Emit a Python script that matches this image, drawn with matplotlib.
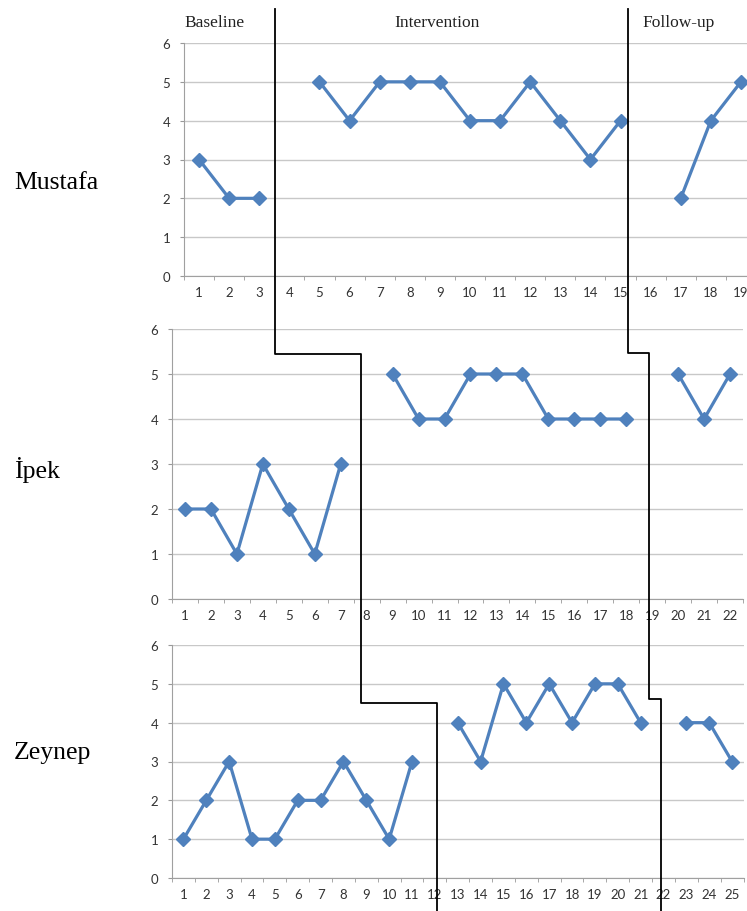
import matplotlib
matplotlib.use("agg")
import matplotlib.pyplot as plt
from matplotlib.lines import Line2D
import numpy as np

W, H = 747, 912
nan = np.nan

names = ["Mustafa", "İpek", "Zeynep"]
mustafa = [3, 2, 2, nan, 5, 4, 5, 5, 5, 4, 4, 5, 4, 3, 4, nan, 2, 4, 5]
ipek = [2, 2, 1, 3, 2, 1, 3, nan, 5, 4, 4, 5, 5, 5, 4, 4, 4, 4, nan, 5, 4, 5]
zeynep = [1, 2, 3, 1, 1, 2, 2, 3, 2, 1, 3, nan, 4, 3, 5, 4, 5, 4, 5, 5, 4, nan, 4, 4, 3]
series = [mustafa, ipek, zeynep]
phases = ["Baseline", "Intervention", "Follow-up"]

# plot boxes in pixels: left, right, top(y=6), bottom(y=0)
boxes = [(184, 756, 44, 277), (172, 743, 330, 600), (172, 743.5, 646, 879)]
name_y = [183, 470, 753]

blue = "#4F81BD"
fig = plt.figure(figsize=(W / 100, H / 100), dpi=100)

def px(x, y):
    return x / W, 1 - y / H

for vals, (l, r, t, b), nm, ny in zip(series, boxes, names, name_y):
    ax = fig.add_axes([l / W, 1 - b / H, (r - l) / W, (b - t) / H])
    x = np.arange(1, len(vals) + 1)
    ax.plot(x, vals, color=blue, lw=2.3, marker="D", ms=7, clip_on=False)
    ax.set_xlim(0.5, len(vals) + 0.5)
    ax.set_ylim(0, 6)
    ax.set_yticks(range(7))
    ax.set_xticks(x)
    ax.set_xticks(np.arange(0.5, len(vals) + 1), minor=True)
    ax.tick_params(axis="x", which="major", length=0, pad=7, labelsize=9.5,
                   labelcolor="#333333")
    ax.tick_params(axis="x", which="minor", length=3, color="#999999")
    ax.tick_params(axis="y", length=3, color="#999999", pad=7, labelsize=9.5,
                   labelcolor="#333333")
    for lab in ax.get_xticklabels() + ax.get_yticklabels():
        lab.set_fontfamily("Lato")
    ax.grid(axis="y", color="#C8C8C8", lw=1)
    ax.set_axisbelow(True)
    for s in ["top", "right"]:
        ax.spines[s].set_visible(False)
    for s in ["left", "bottom"]:
        ax.spines[s].set_color("#A0A0A0")
    fig.text(*px(14, ny), nm, fontsize=18.5, family="Liberation Serif",
             va="center", ha="left")

# phase headers
for txt, cx in zip(phases, [215, 437, 679]):
    fig.text(*px(cx, 23), txt, fontsize=12.5, family="Liberation Serif",
             ha="center", va="center", color="#222222")

# phase change lines (stepped across panels)
line1 = [(275, 10), (275, 355), (361, 355), (361, 704), (437, 704), (437, 912)]
line2 = [(628, 10), (628, 354), (649, 354), (649, 700), (661, 700), (661, 912)]
for pts in [line1, line2]:
    xs = [p[0] / W for p in pts]
    ys = [1 - p[1] / H for p in pts]
    fig.add_artist(Line2D(xs, ys, transform=fig.transFigure, color="black", lw=1.3))

plt.savefig("out.png", dpi=100)
plt.close()
